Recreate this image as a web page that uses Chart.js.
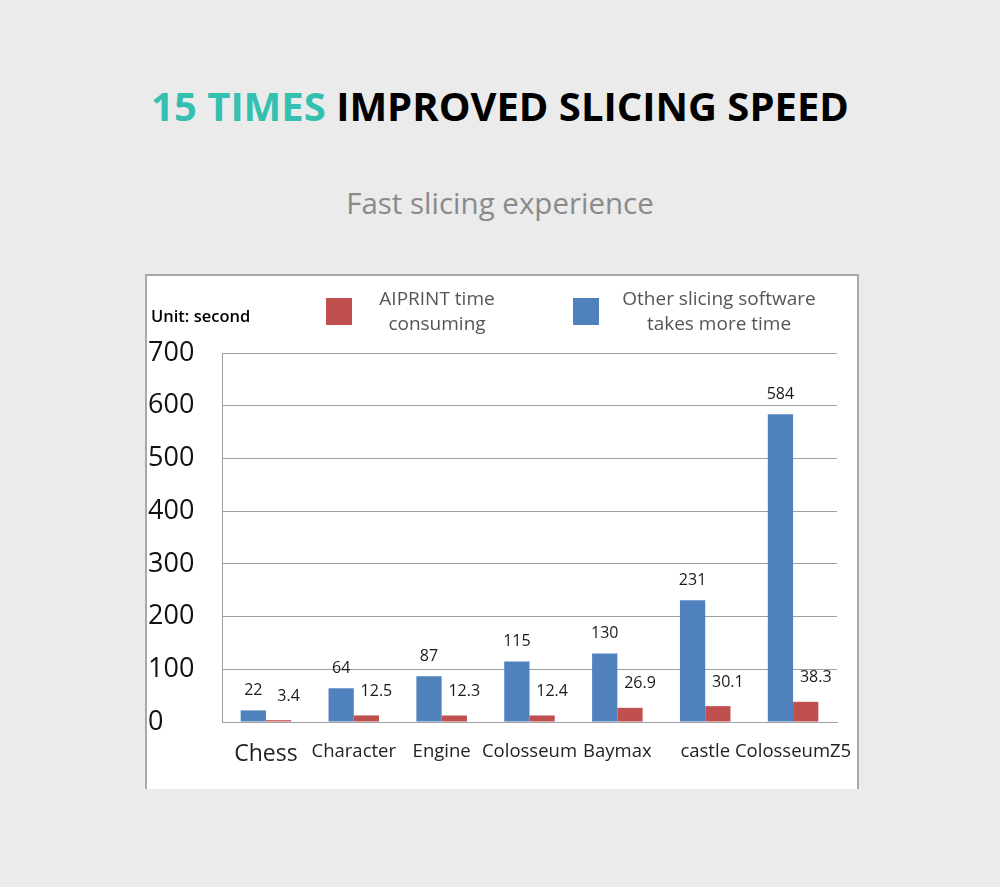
<!DOCTYPE html>
<html>
<head>
<meta charset="utf-8">
<script src="https://cdn.jsdelivr.net/npm/chart.js@4"></script>
<style>
  html, body { margin: 0; padding: 0; }
  body { width: 1000px; height: 887px; background: #ebebeb; position: relative; overflow: hidden; font-family: "Open Sans", sans-serif; }
  #title { position: absolute; left: 0; width: 1000px; top: 78px; text-align: center; font-size: 40px; font-weight: 700; color: #000; line-height: 56px; }
  #title .hl { color: #33c0b0; }
  #subtitle { position: absolute; left: 0; width: 1000px; top: 183px; text-align: center; font-size: 29.5px; color: #8a8a8a; line-height: 40px; }
  #box { position: absolute; left: 145px; top: 274px; width: 710px; height: 513px; background: #fff; border-left: 2px solid #a9a9a9; border-top: 2px solid #a9a9a9; border-right: 2px solid #a9a9a9; }
  #unit { position: absolute; left: 151px; top: 304px; font-size: 16.5px; font-weight: 600; color: #000; line-height: 24px; }
  .leg { position: absolute; display: flex; align-items: center; }
  .leg .sw { width: 26px; height: 27px; }
  .leg .tx { font-size: 19px; color: #555; text-align: center; line-height: 25px; }
  #chartwrap { position: absolute; left: 147px; top: 276px; width: 708px; height: 511px; }
</style>
</head>
<body>
<div id="title"><span class="hl">15 TIMES</span> IMPROVED SLICING SPEED</div>
<div id="subtitle">Fast slicing experience</div>
<div id="box"></div>
<div id="chartwrap"><canvas id="c"></canvas></div>
<div id="unit">Unit: second</div>
<div id="legend"></div>
<script>
const categories = ["Chess", "Character", "Engine", "Colosseum", "Baymax", "castle", "ColosseumZ5"];
const otherSoftware = [22, 64, 87, 115, 130, 231, 584];
const aiprint = [3.4, 12.5, 12.3, 12.4, 26.9, 30.1, 38.3];
const yTicks = [0, 100, 200, 300, 400, 500, 600, 700];
const seriesLabels = { other: "Other slicing software\ntakes more time", aiprint: "AIPRINT time\nconsuming" };
const colors = { other: "#4f81bd", aiprint: "#c0504d" };

const valueLabels = {
  id: 'valueLabels',
  afterDatasetsDraw(chart) {
    const ctx = chart.ctx;
    ctx.save();
    ctx.font = '16px "Open Sans", sans-serif';
    ctx.fillStyle = '#1a1a1a';
    ctx.textAlign = 'center';
    ctx.textBaseline = 'middle';
    chart.data.datasets.forEach((ds, di) => {
      const meta = chart.getDatasetMeta(di);
      meta.data.forEach((bar, i) => {
        const v = ds.data[i];
        if (di === 0) ctx.fillText(String(v), bar.x, bar.y - 20);
        else ctx.fillText(String(v), bar.x + 10, bar.y - 24);
      });
    });
    ctx.restore();
  }
};

const chart = new Chart(document.getElementById('c'), {
  type: 'bar',
  data: {
    labels: categories,
    datasets: [
      { label: seriesLabels.other, data: otherSoftware, backgroundColor: colors.other, categoryPercentage: 0.575, barPercentage: 1.0 },
      { label: seriesLabels.aiprint, data: aiprint, backgroundColor: colors.aiprint, categoryPercentage: 0.575, barPercentage: 1.0 }
    ]
  },
  options: {
    responsive: true,
    maintainAspectRatio: false,
    animation: false,
    layout: { padding: { left: 1, right: 18, top: 77, bottom: 0 } },
    plugins: { legend: { display: false }, tooltip: { enabled: false } },
    scales: {
      x: {
        grid: { display: false, drawTicks: false },
        border: { display: true, color: '#a0a0a0', width: 1 },
        ticks: {
          color: '#222',
          padding: 19,
          maxRotation: 0,
          minRotation: 0,
          autoSkip: false,
          font: (ctx) => ({ family: '"Open Sans", sans-serif', size: ctx.index === 0 ? 23 : 18.5 })
        },
        afterFit(scale) { scale.height = 65; scale.paddingLeft = 0; scale.paddingRight = 0; }
      },
      y: {
        min: 0, max: 700,
        afterBuildTicks(scale) { scale.ticks = yTicks.map(v => ({ value: v })); },
        grid: { color: '#a0a0a0', lineWidth: 1, drawTicks: false },
        border: { display: true, color: '#a0a0a0', width: 1 },
        ticks: {
          color: '#111',
          crossAlign: 'far',
          padding: 8,
          font: { family: '"Open Sans", sans-serif', size: 27 }
        },
        afterFit(scale) { scale.width = 74; }
      }
    }
  },
  plugins: [valueLabels]
});

// Legend built from the chart's datasets (AIPRINT first, as in the reference)
const legendDiv = document.getElementById('legend');
const legendPos = [
  { di: 1, left: 326, top: 286, textWidth: 170 },
  { di: 0, left: 573, top: 286, textWidth: 240 }
];
legendPos.forEach(p => {
  const ds = chart.data.datasets[p.di];
  const item = document.createElement('div');
  item.className = 'leg';
  item.style.left = p.left + 'px';
  item.style.top = p.top + 'px';
  const sw = document.createElement('div');
  sw.className = 'sw';
  sw.style.background = ds.backgroundColor;
  const tx = document.createElement('div');
  tx.className = 'tx';
  tx.style.width = p.textWidth + 'px';
  tx.innerHTML = ds.label.split('\n').join('<br>');
  item.appendChild(sw);
  item.appendChild(tx);
  legendDiv.appendChild(item);
});
</script>
</body>
</html>
